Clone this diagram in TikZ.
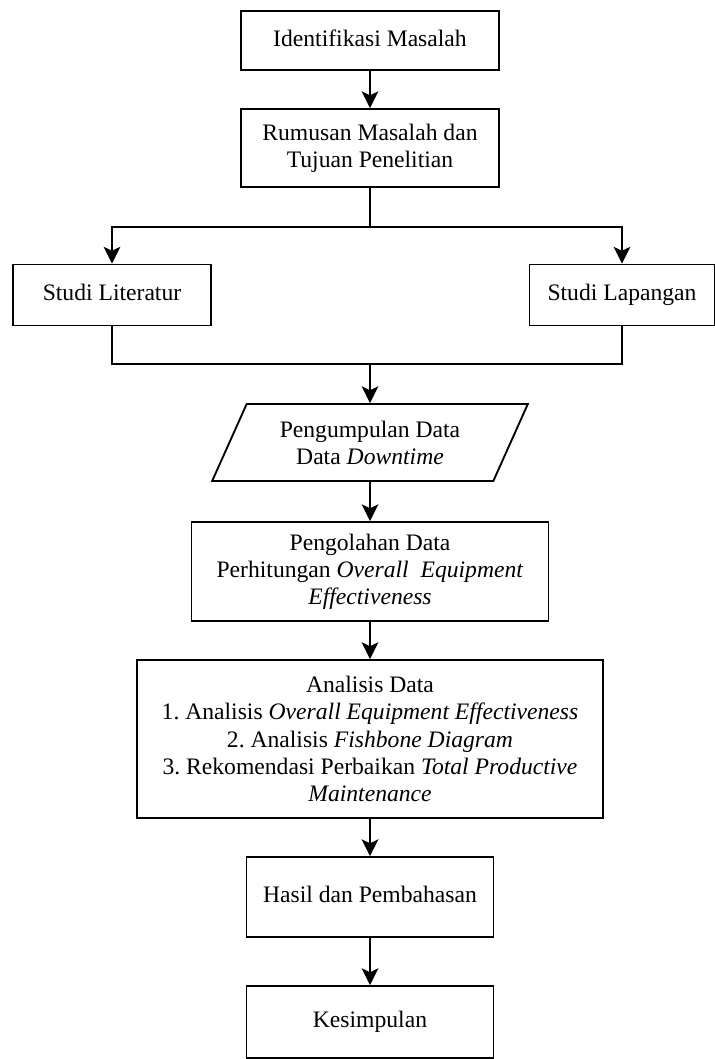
\documentclass[tikz,border=0pt]{standalone}
\usepackage{fontspec}
\setmainfont{Liberation Serif}
\usetikzlibrary{shapes.geometric,arrows.meta}

\begin{document}
\frenchspacing
\begin{tikzpicture}[x=0.508pt, y=-0.508pt, line width=0.95pt,
                    >={Stealth[length=8.5pt,width=8.5pt,inset=2pt]},
                    box node/.style={rectangle,draw,align=center,inner sep=2pt,
                      font=\fontsize{12}{13.8}\selectfont},
                    one line/.style={text height=8.3pt,text depth=2.6pt},
                    data node/.style={trapezium,trapezium left angle=63,trapezium right angle=117,
                      trapezium stretches=true,draw,align=center,inner sep=2pt,
                      font=\fontsize{12}{13.8}\selectfont}]
  \useasboundingbox (0,0) rectangle (715,1059);

  \node[box node,one line,minimum width=131.1pt,minimum height=30pt] (ident) at (370,40.5) {Identifikasi Masalah};
  \node[box node,minimum width=131.1pt,minimum height=39.6pt] (rumus) at (370,148) {Rumusan Masalah dan\\Tujuan Penelitian};
  \node[box node,one line,minimum width=100.6pt,minimum height=31pt] (lit) at (112,295) {Studi Literatur};
  \node[box node,one line,minimum width=94pt,minimum height=31pt] (lap) at (622,295) {Studi Lapangan};
  \node[data node,minimum width=160.5pt,minimum height=39.1pt] (kumpul) at (370,442.5) {Pengumpulan Data\\Data \textit{Downtime}};
  \node[box node,minimum width=181.4pt,minimum height=50.3pt] (olah) at (370,571.5)
    {Pengolahan Data\\Perhitungan \textit{Overall\ \ Equipment}\\\textit{Effectiveness}};
  \node[box node,minimum width=236.7pt,minimum height=80.3pt] (analisis) at (370,739)
    {Analisis Data\\1. Analisis \textit{Overall Equipment Effectiveness}\\2. Analisis \textit{Fishbone Diagram}\\
     3. Rekomendasi Perbaikan \textit{Total Productive}\\\textit{Maintenance}};
  \node[box node,one line,minimum width=125.5pt,minimum height=40.6pt] (hasil) at (370,897) {Hasil dan Pembahasan};
  \node[box node,one line,minimum width=125.5pt,minimum height=36.6pt] (simpul) at (370,1022) {Kesimpulan};

  \coordinate (split) at (370,227);
  \coordinate (join) at (370,364);

  \draw (rumus) -- (split);
  \draw[->] (split) -| (lit);
  \draw[->] (split) -| (lap);
  \draw (lit) |- (join) -| (lap);

  \path[->]
    (ident) edge (rumus)
    (join) edge (kumpul)
    (kumpul) edge (olah)
    (olah) edge (analisis)
    (analisis) edge (hasil)
    (hasil) edge (simpul);
\end{tikzpicture}
\end{document}
